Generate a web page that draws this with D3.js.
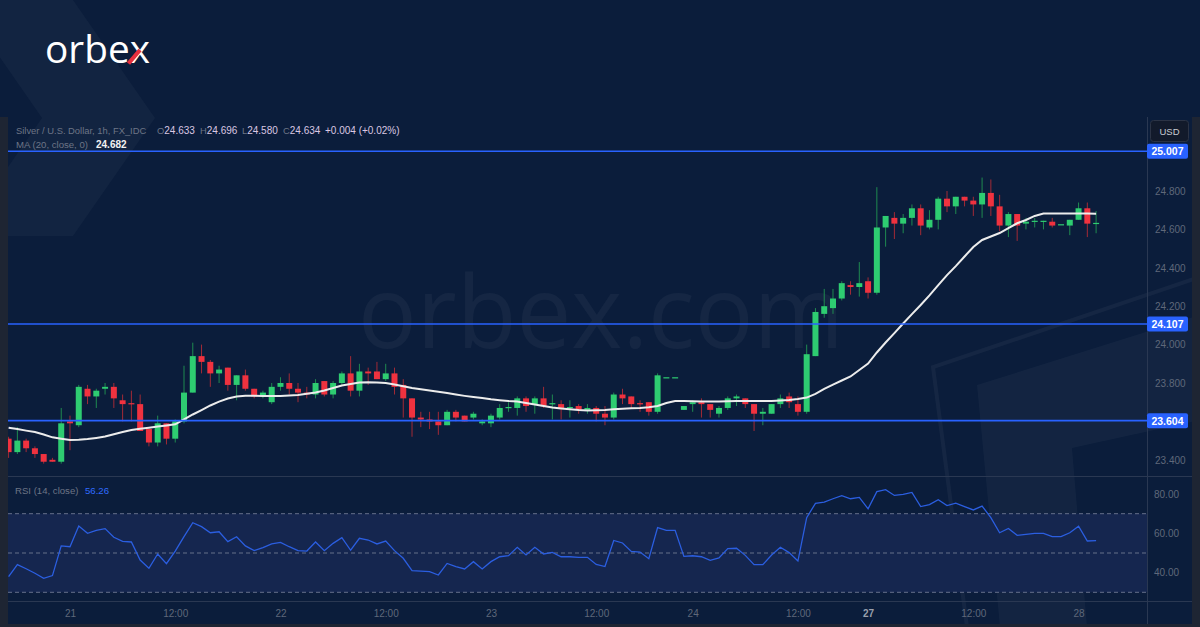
<!DOCTYPE html>
<html>
<head>
<meta charset="utf-8">
<script src="https://d3js.org/d3.v7.min.js"></script>
<style>
  html, body { margin: 0; padding: 0; background: #0b1d3b; }
  svg { display: block; }
</style>
</head>
<body>
<div id="chart"></div>
<script>
// hourly candles, silver / usd
var opens = [23.51, 23.44, 23.50, 23.46, 23.43, 23.40, 23.39, 23.60, 23.58, 23.77,
  23.73, 23.77, 23.78, 23.71, 23.695, 23.69, 23.56, 23.49, 23.59, 23.51,
  23.60, 23.75, 23.94, 23.91, 23.85, 23.88, 23.79, 23.84, 23.77, 23.73,
  23.70, 23.78, 23.80, 23.77, 23.75, 23.74, 23.81, 23.74, 23.80, 23.85,
  23.76, 23.86, 23.86, 23.82, 23.85, 23.79, 23.72, 23.62, 23.61, 23.60,
  23.58, 23.65, 23.63, 23.62, 23.59, 23.59, 23.62, 23.67, 23.67, 23.72,
  23.69, 23.72, 23.69, 23.69, 23.67, 23.68, 23.66, 23.67, 23.64, 23.62,
  23.74, 23.73, 23.695, 23.70, 23.65, 23.83, 23.83, 23.66, 23.69, 23.70,
  23.69, 23.64, 23.67, 23.72, 23.72, 23.69, 23.64, 23.64, 23.69, 23.73,
  23.69, 23.65, 23.94, 24.16, 24.19, 24.24, 24.31, 24.30, 24.33, 24.27,
  24.61, 24.66, 24.63, 24.66, 24.71, 24.61, 24.65, 24.76, 24.72, 24.77,
  24.75, 24.73, 24.79, 24.72, 24.62, 24.68, 24.63, 24.64, 24.64, 24.64,
  24.627, 24.62, 24.65, 24.71, 24.633];
var highs = [23.52, 23.57, 23.51, 23.47, 23.43, 23.41, 23.67, 23.63, 23.79, 23.79,
  23.77, 23.80, 23.80, 23.74, 23.76, 23.74, 23.56, 23.63, 23.59, 23.61,
  23.89, 24.01, 24.00, 23.92, 23.89, 23.88, 23.84, 23.87, 23.77, 23.76,
  23.80, 23.83, 23.85, 23.80, 23.78, 23.82, 23.81, 23.81, 23.86, 23.94,
  23.90, 23.88, 23.91, 23.90, 23.88, 23.82, 23.72, 23.65, 23.65, 23.65,
  23.66, 23.66, 23.63, 23.65, 23.61, 23.64, 23.69, 23.70, 23.73, 23.73,
  23.73, 23.78, 23.74, 23.71, 23.71, 23.69, 23.69, 23.68, 23.68, 23.75,
  23.77, 23.73, 23.71, 23.70, 23.85, 23.83, 23.83, 23.68, 23.71, 23.72,
  23.69, 23.68, 23.73, 23.74, 23.72, 23.69, 23.67, 23.69, 23.74, 23.75,
  23.73, 24.00, 24.19, 24.29, 24.29, 24.33, 24.33, 24.43, 24.35, 24.82,
  24.67, 24.69, 24.68, 24.73, 24.73, 24.70, 24.77, 24.80, 24.77, 24.77,
  24.77, 24.87, 24.86, 24.78, 24.69, 24.68, 24.66, 24.66, 24.645, 24.66,
  24.627, 24.65, 24.74, 24.74, 24.696];
var lows = [23.41, 23.43, 23.44, 23.41, 23.38, 23.39, 23.38, 23.45, 23.57, 23.69,
  23.67, 23.74, 23.67, 23.60, 23.60, 23.55, 23.47, 23.47, 23.48, 23.49,
  23.59, 23.75, 23.85, 23.78, 23.80, 23.76, 23.71, 23.76, 23.72, 23.72,
  23.69, 23.76, 23.74, 23.70, 23.72, 23.72, 23.73, 23.72, 23.79, 23.73,
  23.73, 23.79, 23.82, 23.81, 23.74, 23.62, 23.52, 23.57, 23.56, 23.53,
  23.58, 23.60, 23.60, 23.61, 23.58, 23.57, 23.61, 23.65, 23.63, 23.65,
  23.64, 23.67, 23.61, 23.61, 23.62, 23.64, 23.64, 23.60, 23.58, 23.61,
  23.69, 23.67, 23.65, 23.63, 23.64, 23.83, 23.83, 23.66, 23.65, 23.62,
  23.62, 23.62, 23.66, 23.68, 23.67, 23.55, 23.58, 23.64, 23.67, 23.67,
  23.63, 23.64, 23.94, 24.14, 24.16, 24.23, 24.26, 24.25, 24.24, 24.26,
  24.51, 24.55, 24.58, 24.62, 24.57, 24.60, 24.60, 24.69, 24.68, 24.72,
  24.67, 24.66, 24.67, 24.59, 24.56, 24.54, 24.60, 24.61, 24.60, 24.61,
  24.627, 24.57, 24.65, 24.56, 24.580];
var closes = [23.44, 23.50, 23.46, 23.43, 23.39, 23.39, 23.59, 23.59, 23.78, 23.73,
  23.76, 23.78, 23.72, 23.69, 23.69, 23.55, 23.49, 23.59, 23.51, 23.60,
  23.75, 23.94, 23.91, 23.85, 23.87, 23.79, 23.84, 23.77, 23.73, 23.75,
  23.78, 23.80, 23.77, 23.75, 23.74, 23.80, 23.74, 23.80, 23.85, 23.76,
  23.86, 23.85, 23.82, 23.85, 23.78, 23.72, 23.62, 23.61, 23.60, 23.58,
  23.65, 23.62, 23.60, 23.64, 23.60, 23.63, 23.67, 23.675, 23.72, 23.68,
  23.72, 23.68, 23.695, 23.67, 23.675, 23.66, 23.67, 23.64, 23.62, 23.74,
  23.72, 23.69, 23.69, 23.65, 23.84, 23.83, 23.83, 23.68, 23.70, 23.69,
  23.66, 23.67, 23.72, 23.73, 23.69, 23.64, 23.65, 23.69, 23.72, 23.70,
  23.65, 23.95, 24.17, 24.20, 24.24, 24.32, 24.30, 24.32, 24.27, 24.61,
  24.67, 24.63, 24.66, 24.71, 24.62, 24.65, 24.76, 24.72, 24.77, 24.75,
  24.73, 24.79, 24.72, 24.62, 24.68, 24.62, 24.64, 24.645, 24.645, 24.62,
  24.627, 24.65, 24.71, 24.63, 24.634];

// MA (20, close) as drawn
var maValues = [23.567, 23.560, 23.552, 23.545, 23.532, 23.517, 23.510, 23.503, 23.504, 23.508,
  23.514, 23.521, 23.533, 23.545, 23.555, 23.562, 23.567, 23.573, 23.579, 23.585,
  23.610, 23.636, 23.659, 23.683, 23.703, 23.719, 23.730, 23.734, 23.733, 23.732,
  23.732, 23.732, 23.735, 23.738, 23.744, 23.751, 23.761, 23.774, 23.787, 23.795,
  23.803, 23.804, 23.803, 23.800, 23.792, 23.783, 23.774, 23.767, 23.761, 23.754,
  23.748, 23.740, 23.733, 23.727, 23.722, 23.715, 23.710, 23.706, 23.704, 23.696,
  23.688, 23.680, 23.672, 23.667, 23.663, 23.659, 23.657, 23.658, 23.659, 23.663,
  23.666, 23.668, 23.670, 23.674, 23.680, 23.696, 23.706, 23.706, 23.705, 23.704,
  23.703, 23.704, 23.705, 23.706, 23.706, 23.706, 23.706, 23.706, 23.709, 23.712,
  23.717, 23.724, 23.743, 23.769, 23.792, 23.813, 23.834, 23.868, 23.901, 23.959,
  24.011, 24.060, 24.110, 24.159, 24.206, 24.256, 24.310, 24.362, 24.409, 24.459,
  24.508, 24.545, 24.563, 24.581, 24.607, 24.632, 24.649, 24.670, 24.683, 24.683,
  24.683, 24.683, 24.683, 24.683, 24.682];

// RSI (14, close) as drawn
var rsiValues = [38.0, 44.1, 42.0, 39.7, 37.1, 38.5, 53.6, 53.2, 63.7, 60.0,
  61.5, 62.4, 58.0, 55.9, 55.6, 46.4, 42.2, 49.5, 44.6, 51.0,
  58.3, 65.4, 63.4, 60.3, 60.8, 55.8, 58.3, 53.6, 51.2, 52.7,
  54.6, 55.4, 53.2, 51.2, 51.0, 55.6, 51.2, 54.9, 57.8, 51.4,
  57.5, 56.6, 54.6, 56.1, 51.2, 47.3, 41.0, 40.8, 40.5, 38.8,
  44.7, 43.1, 41.9, 45.6, 41.9, 45.6, 48.1, 48.6, 52.9, 49.0,
  52.9, 49.5, 50.3, 48.1, 48.1, 47.8, 47.8, 44.2,
  43.1, 56.4, 55.1, 50.8, 50.5, 47.1, 62.9, 61.5, 61.5, 48.3,
  48.6, 48.1, 46.3, 47.5, 52.2, 52.4, 48.8, 44.1, 44.1, 49.0,
  52.9, 50.2, 45.9, 68.0, 75.3, 75.9, 77.6, 79.2, 77.6, 78.3,
  72.5, 81.2, 82.2, 79.3, 79.8, 80.8, 73.6, 74.6, 77.1, 74.1,
  75.4, 73.6, 71.9, 73.9, 68.0, 60.3, 62.5, 59.0, 59.5, 60.0,
  60.0, 58.3, 58.3, 60.3, 63.6, 56.1, 56.26];

var levels = [25.007, 24.107, 23.604];
var priceTicks = [23.4, 23.8, 24.0, 24.2, 24.4, 24.6, 24.8];
var rsiTicks = [40, 60, 80];
var rsiBands = [30, 50, 70];
var timeTickIdx = [7, 19, 31, 43, 55, 67, 78, 90, 98, 110, 122];
var timeTickLabels = ["21", "12:00", "22", "12:00", "23", "12:00", "24", "12:00", "27", "12:00", "28"];

var W = 1200, H = 627;
var left = 8, right = 1147;
var paneTop = 117, paneBottom = 476.5, rsiBottom = 601.5;
var uiFont = "'Liberation Sans', Arial, sans-serif";
var green = "#2ecc71", red = "#f0323f";

var svg = d3.select("#chart").append("svg")
  .attr("width", W)
  .attr("height", H);

svg.append("rect").attr("width", W).attr("height", H).style("fill", "#0b1d3b");

// decorative shapes
svg.append("path")
  .attr("d", "M-40,0 L73,0 L155,118 L73,236 L-40,236 L42,118 Z")
  .style("fill", "rgba(255,255,255,0.03)");
svg.append("path")
  .attr("d", "M977,385 L1200,315 L1200,420 L1072,448 L1087,627 L1000,627 Z")
  .style("fill", "rgba(255,255,255,0.035)");
svg.append("path")
  .attr("d", "M1200,277 L933,367 L967,627")
  .style("fill", "none")
  .style("stroke", "rgba(255,255,255,0.045)")
  .style("stroke-width", 4);

// logo
svg.append("text")
  .attr("x", 45)
  .attr("y", 63)
  .attr("textLength", 105)
  .attr("lengthAdjust", "spacingAndGlyphs")
  .style("font-family", "'Open Sans', sans-serif")
  .style("font-size", "39px")
  .style("fill", "white")
  .text("orbex");
svg.append("line")
  .attr("x1", 128.5).attr("y1", 63.5)
  .attr("x2", 140).attr("y2", 50)
  .style("stroke", "#e62e3d")
  .style("stroke-width", 4.2);

// watermark
svg.append("text")
  .attr("x", 358)
  .attr("y", 348)
  .attr("textLength", 486)
  .attr("lengthAdjust", "spacingAndGlyphs")
  .style("font-family", "'Open Sans', sans-serif")
  .style("font-size", "100px")
  .style("fill", "rgba(255,255,255,0.045)")
  .text("orbex.com");

// frame
svg.append("rect").attr("x", 0).attr("y", paneTop).attr("width", left).attr("height", H - paneTop).style("fill", "#1e2533");
svg.append("rect").attr("x", 1192).attr("y", paneTop).attr("width", 8).attr("height", H - paneTop).style("fill", "#1e2533");
svg.append("rect").attr("x", 0).attr("y", 624).attr("width", W).attr("height", 3).style("fill", "#1e2533");

var x = d3.scaleLinear().domain([0, 124]).range([8.6, 1096.1]);
var y = d3.scaleLinear().domain([23.4, 24.8]).range([459.8, 191]);
var yRsi = d3.scaleLinear().domain([30, 70]).range([592.3, 513.7]);

svg.append("clipPath").attr("id", "pane")
  .append("rect").attr("x", left).attr("y", paneTop).attr("width", right - left).attr("height", paneBottom - paneTop);
svg.append("clipPath").attr("id", "rsipane")
  .append("rect").attr("x", left).attr("y", paneBottom).attr("width", right - left).attr("height", rsiBottom - paneBottom);

// separators
svg.append("line").attr("x1", left).attr("x2", 1192).attr("y1", paneBottom).attr("y2", paneBottom)
  .style("stroke", "#2a3852").style("stroke-width", 1);
svg.append("line").attr("x1", left).attr("x2", 1192).attr("y1", rsiBottom).attr("y2", rsiBottom)
  .style("stroke", "#2a3852").style("stroke-width", 1);
svg.append("line").attr("x1", right + 0.5).attr("x2", right + 0.5).attr("y1", paneTop).attr("y2", 624)
  .style("stroke", "#2a3852").style("stroke-width", 1);

// price pane
var pane = svg.append("g").attr("clip-path", "url(#pane)");
var bars = d3.range(opens.length);

pane.selectAll(".wick").data(bars).enter().append("line")
  .attr("x1", function(i) { return x(i); })
  .attr("x2", function(i) { return x(i); })
  .attr("y1", function(i) { return y(highs[i]); })
  .attr("y2", function(i) { return y(lows[i]); })
  .style("stroke", function(i) { return closes[i] >= opens[i] ? "#1f8a50" : "#a32a36"; })
  .style("stroke-width", 1);

pane.selectAll(".body").data(bars).enter().append("rect")
  .attr("x", function(i) { return x(i) - 3; })
  .attr("y", function(i) { return y(Math.max(opens[i], closes[i])); })
  .attr("width", 6)
  .attr("height", function(i) { return Math.max(1.2, Math.abs(y(opens[i]) - y(closes[i]))); })
  .style("fill", function(i) { return closes[i] >= opens[i] ? green : red; });

pane.append("path")
  .datum(maValues)
  .attr("d", d3.line().x(function(d, i) { return x(i); }).y(function(d) { return y(d); }))
  .style("fill", "none")
  .style("stroke", "#ececec")
  .style("stroke-width", 2);

pane.selectAll(".level").data(levels).enter().append("line")
  .attr("x1", left).attr("x2", right)
  .attr("y1", function(d) { return y(d); })
  .attr("y2", function(d) { return y(d); })
  .style("stroke", "#2962ff")
  .style("stroke-width", 1.6);

// price axis
var yAxis = svg.append("g")
  .attr("transform", "translate(" + (right + 6) + ",0)")
  .call(d3.axisRight(y).tickValues(priceTicks).tickFormat(d3.format(".3f")).tickSize(0));
yAxis.select(".domain").remove();
yAxis.selectAll("text")
  .attr("x", 2)
  .style("font-family", uiFont)
  .style("font-size", "10px")
  .style("fill", "#5f687a");

var tags = svg.selectAll(".tag").data(levels).enter().append("g")
  .attr("transform", function(d) { return "translate(" + right + "," + y(d) + ")"; });
tags.append("rect")
  .attr("x", 0).attr("y", -7.5).attr("width", 41).attr("height", 15).attr("rx", 2)
  .style("fill", "#2962ff");
tags.append("text")
  .attr("x", 20.5).attr("y", 4)
  .style("font-family", uiFont)
  .style("font-size", "10.5px")
  .style("font-weight", "bold")
  .style("text-anchor", "middle")
  .style("fill", "white")
  .text(function(d) { return d3.format(".3f")(d); });

svg.append("rect")
  .attr("x", 1150.5).attr("y", 120.5).attr("width", 38).attr("height", 21).attr("rx", 3)
  .style("fill", "#121a2b")
  .style("stroke", "#2b3345");
svg.append("text")
  .attr("x", 1169.5).attr("y", 134.5)
  .style("font-family", uiFont)
  .style("font-size", "9.5px")
  .style("text-anchor", "middle")
  .style("fill", "#c9ccd4")
  .text("USD");

// legend
var legend = svg.append("text")
  .attr("x", 16).attr("y", 133.5)
  .style("font-family", uiFont)
  .style("font-size", "9.4px")
  .style("fill", "#6d7586");
legend.append("tspan").text("Silver / U.S. Dollar, 1h, FX_IDC");
var ohlc = [["O", "24.633", 157], ["H", "24.696", 200], ["L", "24.580", 242], ["C", "24.634", 283]];
ohlc.forEach(function(p) {
  legend.append("tspan").attr("x", p[2]).text(p[0]);
  legend.append("tspan").style("fill", "#dac7e2").style("font-size", "10px").text(p[1]);
});
legend.append("tspan").attr("x", 325).style("fill", "#dac7e2").style("font-size", "10px").text("+0.004 (+0.02%)");

var maLegend = svg.append("text")
  .attr("x", 16).attr("y", 147.5)
  .style("font-family", uiFont)
  .style("font-size", "9.6px")
  .style("fill", "#6d7586");
maLegend.append("tspan").text("MA (20, close, 0)");
maLegend.append("tspan").attr("x", 96).style("fill", "#f2f2f2").style("font-weight", "bold").style("font-size", "10px").text("24.682");

// rsi pane
var rsiPane = svg.append("g").attr("clip-path", "url(#rsipane)");
rsiPane.append("rect")
  .attr("x", left).attr("width", right - left)
  .attr("y", yRsi(70)).attr("height", yRsi(30) - yRsi(70))
  .style("fill", "#15264f");
rsiPane.selectAll(".band").data(rsiBands).enter().append("line")
  .attr("x1", left).attr("x2", right)
  .attr("y1", function(d) { return yRsi(d); })
  .attr("y2", function(d) { return yRsi(d); })
  .style("stroke", "#66708a")
  .style("stroke-width", 1)
  .style("stroke-dasharray", "4,3");
rsiPane.append("path")
  .datum(rsiValues)
  .attr("d", d3.line().x(function(d, i) { return x(i); }).y(function(d) { return yRsi(d); }))
  .style("fill", "none")
  .style("stroke", "#2b5ee0")
  .style("stroke-width", 1.3);

var rsiAxis = svg.append("g")
  .attr("transform", "translate(" + (right + 6) + ",0)")
  .call(d3.axisRight(yRsi).tickValues(rsiTicks).tickFormat(d3.format(".2f")).tickSize(0));
rsiAxis.select(".domain").remove();
rsiAxis.selectAll("text")
  .attr("x", 1)
  .style("font-family", uiFont)
  .style("font-size", "10px")
  .style("fill", "#5f687a");

var rsiLegend = svg.append("text")
  .attr("x", 15).attr("y", 494)
  .style("font-family", uiFont)
  .style("font-size", "9.6px")
  .style("fill", "#6d7586");
rsiLegend.append("tspan").text("RSI (14, close)");
rsiLegend.append("tspan").attr("x", 85).style("fill", "#2f6bff").text(d3.format(".2f")(rsiValues[rsiValues.length - 1]));

// time axis
var xAxis = svg.append("g")
  .attr("transform", "translate(0," + rsiBottom + ")")
  .call(d3.axisBottom(x).tickValues(timeTickIdx)
    .tickFormat(function(d, i) { return timeTickLabels[i]; }).tickSize(0));
xAxis.select(".domain").remove();
xAxis.selectAll("text")
  .attr("y", 8)
  .style("font-family", uiFont)
  .style("font-size", "10px")
  .style("fill", function(d, i) { return timeTickLabels[i] === "27" ? "#9aa0ad" : "#5f687a"; })
  .style("font-weight", function(d, i) { return timeTickLabels[i] === "27" ? "bold" : "normal"; });
</script>
</body>
</html>
